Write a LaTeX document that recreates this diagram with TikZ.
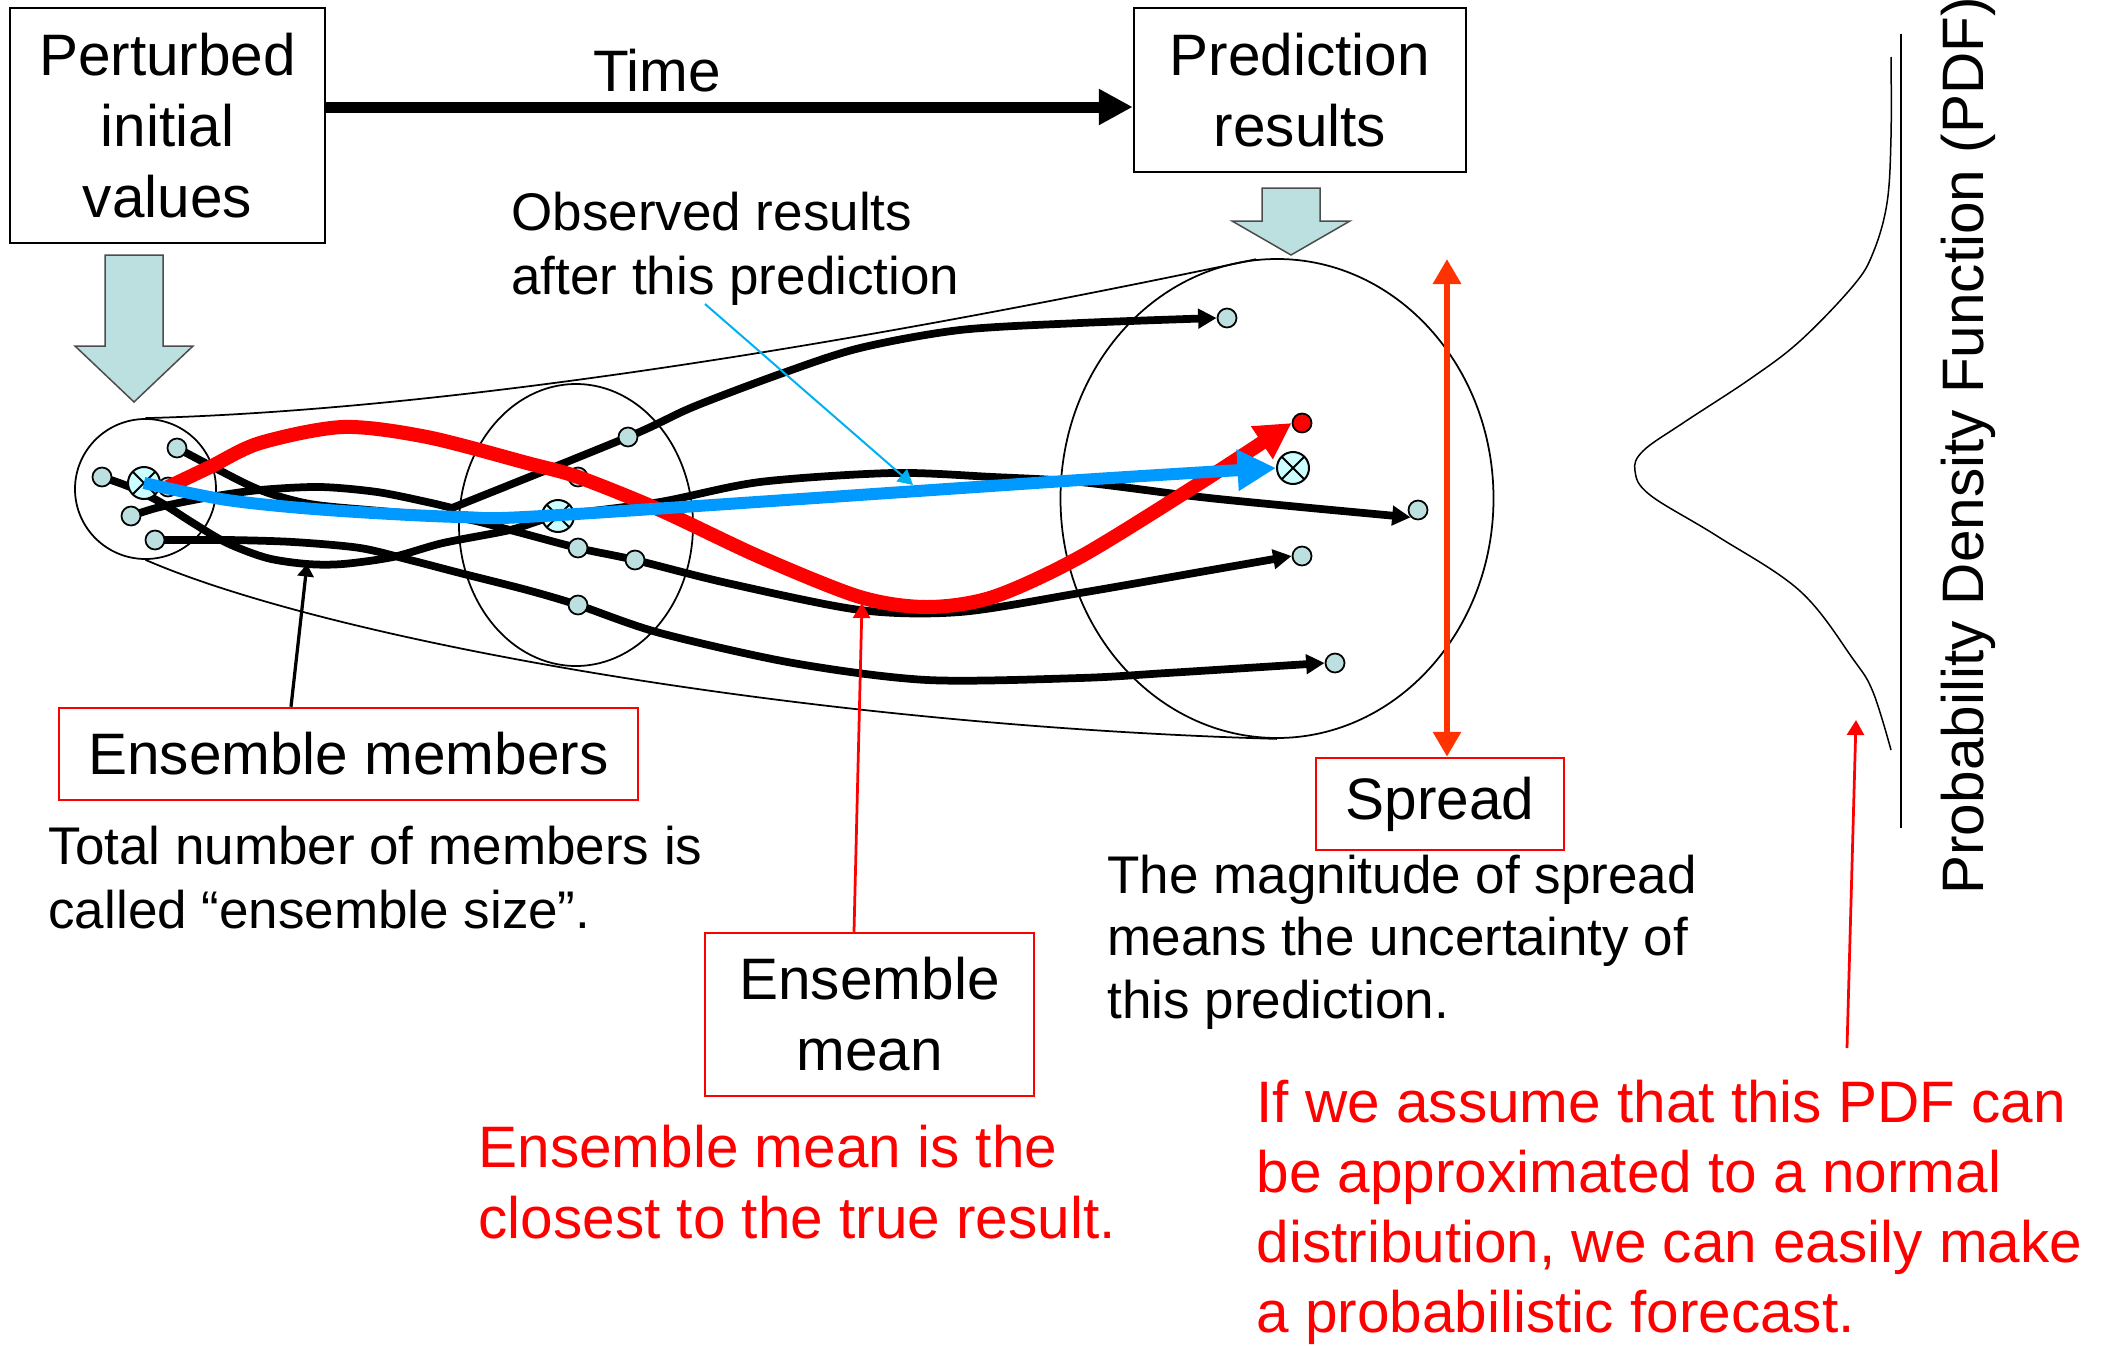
\documentclass[tikz,border=0pt]{standalone}
\usepackage{fontspec}
\setmainfont{Liberation Sans}
\usetikzlibrary{arrows.meta,shapes.geometric,backgrounds}
\definecolor{dotfill}{RGB}{188,223,224}
\definecolor{crossfill}{RGB}{204,255,255}
\definecolor{meanblue}{RGB}{0,153,255}
\definecolor{obscyan}{RGB}{0,176,240}
\definecolor{spreadred}{RGB}{255,51,0}

\begin{document}
\begin{tikzpicture}[
	x=0.4pt, y=-0.4pt,
	bigtext/.style={ font=\fontsize{23.4}{28.4}\selectfont },
	smalltext/.style={ font=\fontsize{21.2}{25.6}\selectfont },
	blackbox/.style={ bigtext, draw, line width=1pt, align=center, inner sep=0pt },
	redbox/.style={ bigtext, draw=red, line width=1pt, align=center, inner sep=0pt },
	note/.style={ smalltext, align=left, anchor=west, inner sep=0pt },
	rednote/.style={ bigtext, text=red, align=left, anchor=west, inner sep=0pt },
	envelope/.style={ ellipse, draw, line width=0.7pt, inner sep=0pt },
	member/.style={ circle, draw, line width=0.7pt, fill=dotfill, inner sep=0pt, minimum size=7.6pt },
	obsdot/.style={ member, fill=red },
	meanmark/.style={ circle, draw, line width=0.8pt, fill=crossfill, inner sep=0pt, minimum size=12.8pt,
		path picture={ \draw[line width=0.8pt] (path picture bounding box.north west) -- (path picture bounding box.south east)
			(path picture bounding box.north east) -- (path picture bounding box.south west); } },
	traj/.style={ line width=3.1pt, -{Triangle[length=7.4pt,width=7.6pt]} },
	redpath/.style={ red, line width=5.6pt, -{Triangle[length=14.3pt,width=14.8pt]} },
	bluepath/.style={ meanblue, line width=4.8pt, -{Triangle[length=15.4pt,width=15.6pt]} },
	timearrow/.style={ line width=4.4pt, -{Triangle[length=13.6pt,width=13.6pt]} },
	spreadarrow/.style={ spreadred, line width=2.7pt, {Triangle[length=10pt,width=10.8pt]}-{Triangle[length=10pt,width=10.8pt]} },
	blackpointer/.style={ line width=1.3pt, -{Triangle[length=5pt,width=6.4pt]} },
	redpointer/.style={ red, line width=1.1pt, -{Triangle[length=6pt,width=6.8pt]} },
	obspointer/.style={ obscyan, line width=0.8pt, -{Triangle[length=6pt,width=6.4pt]} },
	blockarrow/.style={ fill=dotfill, draw=black!70, line width=0.6pt }
]

\useasboundingbox (0,0) rectangle (2101,1346);

\node at (167.5,125.5) (perturbed) [blackbox, minimum width=126pt, minimum height=94pt] {Perturbed\\initial\\values};
\node at (1300,90) (prediction) [blackbox, minimum width=132.8pt, minimum height=65.6pt] {Prediction\\results};
\node at (657,71) (time) [bigtext] {Time};
\coordinate (timeline) at (0,107);
\draw[timearrow] (perturbed.east |- timeline) -- (prediction.west |- timeline);

\foreach \cx/\ytop/\yneck/\ytip in {134/255/346/402, 1291/188/221/255}
	\draw[blockarrow] (\cx-29,\ytop) -- (\cx+29,\ytop) -- (\cx+29,\yneck) -- (\cx+59,\yneck) -- (\cx,\ytip) -- (\cx-59,\yneck) -- (\cx-29,\yneck) -- cycle;

\node at (511,249) (observed) [note] {Observed results\\after this prediction};

\foreach \n/\x/\y in {s1/177/448, s2/102/477, s3/168/487, s4/131/516, s5/155/540, m1/628/437, m2/578/477, m3/578/548, m4/635/560, m5/578/605, e1/1227/318, e2/1418/510, e3/1302/556, e4/1335/663}
	\node at (\x,\y) (\n) [member] {};
\foreach \n/\x/\y in {sx/144/483, mx/558/516, ex/1293/468}
	\node at (\x,\y) (\n) [meanmark] {};
\node at (1302,423) (obs) [obsdot] {};

\coordinate (bend) at (452,508);
\coordinate (dip) at (307,564);

\begin{scope}[on background layer]
\node at (145.5,489) (startset) [envelope, minimum width=56.4pt, minimum height=56pt] {};
\node at (576,525) (midset) [envelope, minimum width=93.6pt, minimum height=112.8pt] {};
\node at (1277,498.5) (endset) [envelope, minimum width=173.2pt, minimum height=191.6pt] {};
\draw[line width=0.7pt] (startset.north) .. controls (450,410) and (850,345) .. (endset.95);
\draw[line width=0.7pt] (startset.south) .. controls (330,640) and (800,725) .. (endset.south);

\draw[traj] plot[smooth, tension=0.5] coordinates {(s4) (160,507) (210,497) (260,490) (320,487) (377,492) (427,502) (bend)}
	-- plot[smooth, tension=0.5] coordinates {(bend) (m1) (693,407) (783,373) (860,348) (960,330) (1080,323) (e1.west)};
\draw[traj] plot[smooth, tension=0.5] coordinates {(s2) (130,487) (160,502) (193,523) (227,543) (267,558) (dip) (343,564) (393,557) (443,543) (510,530) (mx) (660,502) (760,482) (893,473) (993,477) (1080,482) (1200,497) (1300,507) (e2.south west)};
\draw[traj] plot[smooth, tension=0.5] coordinates {(s1) (215,468) (260,490) (310,504) (380,511) (460,518) (510,530) (m3) (m4) (727,583) (860,610) (960,612) (1080,593) (1200,572) (e3.west)};
\draw[traj] plot[smooth, tension=0.5] coordinates {(s5) (227,540) (293,542) (360,548) (410,560) (460,573) (527,590) (m5) (660,633) (793,663) (927,680) (1080,678) (1167,673) (e4.west)};
\end{scope}

\draw[redpath] plot[smooth, tension=0.5] coordinates {(s3) (210,467) (260,443) (343,427) (427,437) (527,463) (m2) (660,510) (760,557) (860,597) (927,607) (993,597) (1080,557) (1200,483) (obs.west)};
\draw[bluepath] plot[smooth, tension=0.5] coordinates {(sx) (227,500) (327,510) (460,517) (560,515) (1080,480) (ex.west)};

\coordinate (obstail) at (705,304);
\coordinate (obstip) at (913,485);
\draw[obspointer] (obstail) -- (obstip);

\node at (348.5,754) (members) [redbox, minimum width=231.6pt, minimum height=36.8pt] {Ensemble members};
\draw[blackpointer] ([xshift=-23pt]members.north) -- (dip);
\node at (48,878) (sizenote) [note] {Total number of members is\\called “ensemble size”.};

\node at (869.5,1014.5) (meanbox) [redbox, minimum width=131.6pt, minimum height=65.2pt] {Ensemble\\mean};
\coordinate (meantip) at (862,603);
\draw[redpointer] ([xshift=-6.2pt]meanbox.north) -- (meantip);
\node at (478,1182) (meannote) [rednote] {Ensemble mean is the\\closest to the true result.};

\node at (1440,804) (spread) [redbox, minimum width=99.2pt, minimum height=36.8pt] {Spread};
\coordinate (spreadtop) at (1447,259);
\draw[spreadarrow] (spreadtop) -- (spreadtop |- spread.north);
\node at (1107,942) (spreadnote) [note, font=\fontsize{21.2}{25}\selectfont] {The magnitude of spread\\means the uncertainty of\\this prediction.};

\draw[line width=0.6pt] plot[smooth, tension=0.6] coordinates {(1891,57) (1891,137) (1887,203) (1873,253) (1853,286) (1800,341) (1750,379) (1683,423) (1643,451) (1635,471) (1650,495) (1717,536) (1800,591) (1853,659) (1873,692) (1891,750)};
\draw[line width=1pt] (1901,34) -- (1901,828);
\node at (1983,895) (pdflabel) [bigtext, rotate=90, anchor=base west, inner sep=0pt] {Probability Density Function (PDF)};

\coordinate (pdftail) at (1847,1048);
\coordinate (pdftip) at (1856,720);
\draw[redpointer] (pdftail) -- (pdftip);
\node at (1256,1212) (pdfnote) [rednote, font=\fontsize{23.4}{28}\selectfont] {If we assume that this PDF can\\be approximated to a normal\\distribution, we can easily make\\a probabilistic forecast.};

\end{tikzpicture}
\end{document}
